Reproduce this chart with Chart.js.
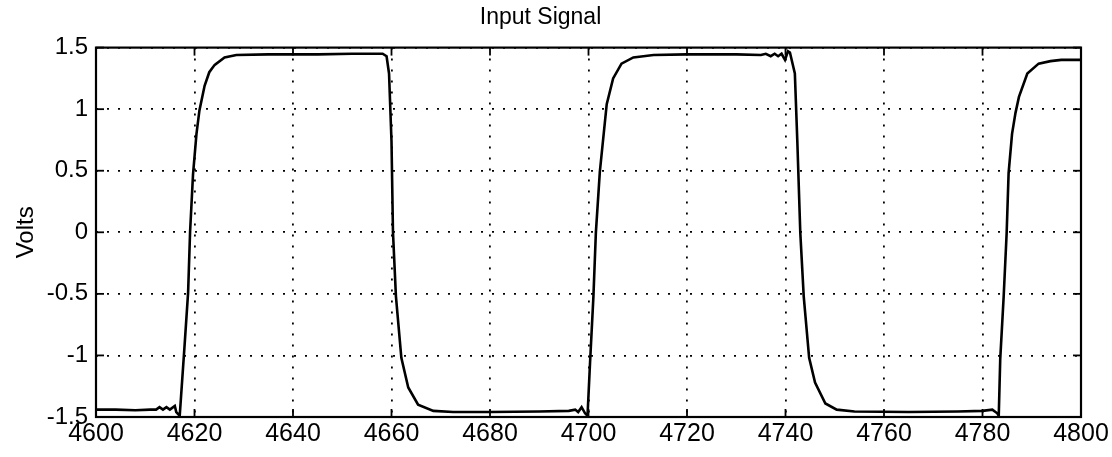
<!DOCTYPE html>
<html>
<head>
<meta charset="utf-8">
<script src="https://cdn.jsdelivr.net/npm/chart.js@4/dist/chart.umd.min.js"></script>
<style>
html,body{margin:0;padding:0;background:#fff;}
#wrap{width:1112px;height:457px;position:relative;}
</style>
</head>
<body>
<div id="wrap"><canvas id="c" width="1112" height="457"></canvas></div>
<script>
const chartTitle = "Input Signal";
const yAxisTitle = "Volts";
const xTickValues = [4600,4620,4640,4660,4680,4700,4720,4740,4760,4780,4800];
const xTickLabels = ["4600","4620","4640","4660","4680","4700","4720","4740","4760","4780","4800"];
const yTickValues = [-1.5,-1,-0.5,0,0.5,1,1.5];
const yTickLabels = ["-1.5","-1","-0.5","0","0.5","1","1.5"];

const timeSamples = [
  4600,4604,4608,4611,4612.2,4612.9,4613.6,4614.3,4615.0,4616.0,4616.3,4617.0,
  4618.0,4618.7,4619.1,4619.7,4620.4,4621.0,4622.05,4623.0,4624.1,4626.1,4628.5,
  4635,4645,4652,4656,4658.2,4659.0,4659.5,4660.0,4660.3,4660.9,4662.0,4663.4,
  4665.4,4668.5,4672.5,4680,4690,4696,4697.3,4697.9,4698.6,4699.3,4699.8,
  4700.3,4701.0,4701.5,4702.3,4703.7,4705.0,4706.7,4709.1,4713.2,4720,4730,
  4735,4736,4737,4737.8,4738.5,4739.2,4739.9,4740.5,4740.9,4741.9,4742.4,
  4743.0,4743.7,4744.8,4746.0,4748.1,4750.4,4754,4765,4775,4780,4782.0,4783.0,
  4783.3,4783.6,4784.3,4784.9,4785.3,4786.0,4786.7,4787.4,4789.1,4791.4,
  4793.8,4796,4800
];
const voltSamples = [
  -1.44,-1.44,-1.445,-1.44,-1.44,-1.42,-1.44,-1.42,-1.44,-1.41,-1.46,-1.49,
  -0.91,-0.49,0.0,0.47,0.80,0.99,1.19,1.30,1.36,1.42,1.44,
  1.445,1.445,1.45,1.45,1.45,1.43,1.29,0.74,0.0,-0.52,-1.02,-1.26,
  -1.40,-1.45,-1.46,-1.46,-1.455,-1.45,-1.44,-1.46,-1.42,-1.47,-1.49,
  -1.07,-0.52,0.0,0.49,1.04,1.25,1.37,1.42,1.44,1.445,1.445,
  1.44,1.45,1.43,1.45,1.43,1.45,1.40,1.47,1.46,1.29,0.74,
  0.0,-0.52,-1.02,-1.22,-1.39,-1.44,-1.455,-1.46,-1.455,-1.45,-1.44,-1.47,
  -1.49,-1.03,-0.52,-0.01,0.48,0.80,0.97,1.10,1.29,1.37,
  1.39,1.40,1.40
];

const points = timeSamples.map((t,i)=>({x:t,y:voltSamples[i]}));

const boxPlugin = {
  id:'box',
  afterDraw(chart){
    const a = chart.chartArea, ctx = chart.ctx;
    ctx.save();
    ctx.strokeStyle = '#000';
    ctx.lineWidth = 2.2;
    ctx.strokeRect(a.left, a.top, a.right - a.left, a.bottom - a.top);
    ctx.lineWidth = 1.8;
    const xs = chart.scales.x, ys = chart.scales.y;
    xTickValues.forEach(v=>{
      const px = xs.getPixelForValue(v);
      ctx.beginPath(); ctx.moveTo(px,a.bottom); ctx.lineTo(px,a.bottom-8); ctx.stroke();
      ctx.beginPath(); ctx.moveTo(px,a.top); ctx.lineTo(px,a.top+8); ctx.stroke();
    });
    yTickValues.forEach(v=>{
      const py = ys.getPixelForValue(v);
      ctx.beginPath(); ctx.moveTo(a.left,py); ctx.lineTo(a.left+8,py); ctx.stroke();
      ctx.beginPath(); ctx.moveTo(a.right,py); ctx.lineTo(a.right-8,py); ctx.stroke();
    });
    ctx.restore();
  }
};

const fontFam = "'Liberation Sans', Arial, Helvetica, sans-serif";

new Chart(document.getElementById('c'), {
  type:'line',
  data:{datasets:[{
    data:points,
    borderColor:'#000',
    borderWidth:2.6,
    pointRadius:0,
    tension:0,
    fill:false
  }]},
  options:{
    responsive:false,
    animation:false,
    parsing:false,
    layout:{padding:{left:0,right:31,top:0,bottom:0}},
    plugins:{
      legend:{display:false},
      tooltip:{enabled:false},
      title:{
        display:true,
        text:chartTitle,
        color:'#000',
        font:{family:fontFam,size:23,weight:'normal',lineHeight:1.2},
        padding:{top:4,bottom:16}
      }
    },
    scales:{
      x:{
        type:'linear',
        min:4600,max:4800,
        afterBuildTicks(s){ s.ticks = xTickValues.map(v=>({value:v})); },
        afterFit(s){ s.height = 40; },
        ticks:{
          color:'#000',
          font:{family:fontFam,size:25},
          padding:2,
          maxRotation:0,
          autoSkip:false,
          callback:(v)=>{const i=xTickValues.indexOf(v);return i>=0?xTickLabels[i]:'';}
        },
        grid:{color:'#000',lineWidth:1.8,drawTicks:false},
        border:{display:false,dash:[2,9]}
      },
      y:{
        type:'linear',
        min:-1.5,max:1.5,
        afterBuildTicks(s){ s.ticks = yTickValues.map(v=>({value:v})); },
        afterFit(s){ s.width = 96; },
        title:{display:true,text:yAxisTitle,color:'#000',font:{family:fontFam,size:24},padding:{top:12,bottom:0}},
        ticks:{
          color:'#000',
          font:{family:fontFam,size:24},
          padding:8,
          autoSkip:false,
          callback:(v)=>{const i=yTickValues.indexOf(v);return i>=0?yTickLabels[i]:'';}
        },
        grid:{color:'#000',lineWidth:1.8,drawTicks:false},
        border:{display:false,dash:[2,9]}
      }
    }
  },
  plugins:[boxPlugin]
});
</script>
</body>
</html>
